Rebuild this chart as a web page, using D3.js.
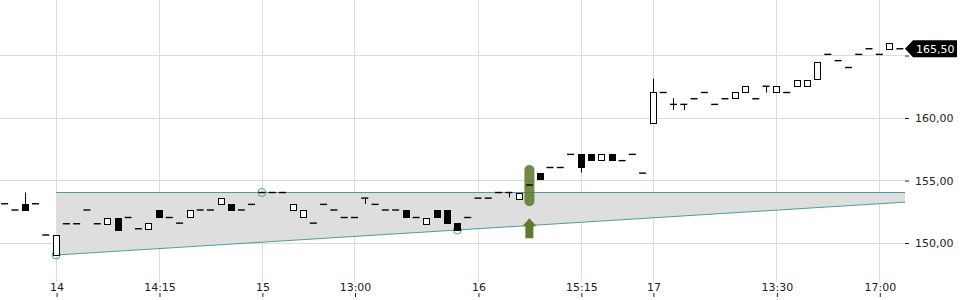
<!DOCTYPE html>
<html>
<head>
<meta charset="utf-8">
<script src="https://cdn.jsdelivr.net/npm/d3@7"></script>
<style>
  body { margin: 0; background: #fff; }
  svg { display: block; font-family: "DejaVu Sans", sans-serif; }
</style>
</head>
<body>
<div id="canvas"></div>
<script>
// candle index of the first entry (the chart shows a few bars of the previous day)
const firstIndex = -5;

const opens = [
  153.1, 152.6, 153.1, 153.1, 150.6, 149.0, 151.5, 151.5, 152.6, 151.5,
  151.5, 152.0, 152.0, 151.1, 151.05, 152.6, 152.0, 151.55, 152.0, 152.6,
  152.6, 153.05, 153.05, 152.6, 153.05, 154.0, 154.0, 154.0, 152.6, 152.0,
  151.55, 153.05, 152.6, 152.0, 152.0, 153.55, 153.05, 152.6, 152.6, 152.6,
  152.0, 151.55, 152.6, 152.6, 151.55, 152.0, 153.55, 153.55, 154.0, 154.0,
  153.55, 154.6, 155.55, 156.0, 156.0, 157.05, 157.05, 157.1, 156.6, 157.1,
  156.55, 157.05, 155.55, 159.55, 162.0, 161.05, 161.05, 161.5, 162.0, 161.05,
  161.5, 161.5, 162.0, 161.5, 162.5, 162.0, 162.0, 162.5, 162.5, 163.05,
  165.05, 164.55, 164.0, 165.05, 165.5, 165.05, 165.5, 165.5
];
const highs = [
  153.1, 152.6, 154.0, 153.1, 150.6, 150.6, 151.5, 151.5, 152.6, 151.5,
  152.0, 152.0, 152.0, 151.1, 151.55, 152.6, 152.0, 151.55, 152.6, 152.6,
  152.6, 153.55, 153.05, 152.6, 153.05, 154.0, 154.0, 154.0, 153.05, 152.6,
  151.55, 153.05, 152.6, 152.0, 152.0, 153.55, 153.05, 152.6, 152.6, 152.6,
  152.0, 152.0, 152.6, 152.6, 151.55, 152.0, 153.55, 153.55, 154.0, 154.0,
  154.0, 154.6, 155.55, 156.0, 156.0, 157.05, 157.05, 157.1, 157.1, 157.1,
  156.55, 157.05, 155.55, 163.1, 162.0, 161.55, 161.05, 161.5, 162.0, 161.05,
  161.5, 162.0, 162.5, 161.5, 162.5, 162.5, 162.0, 163.0, 163.0, 164.45,
  165.05, 164.55, 164.0, 165.05, 165.5, 165.05, 166.0, 165.5
];
const lows = [
  153.1, 152.6, 152.6, 153.1, 150.6, 149.0, 151.5, 151.5, 152.6, 151.5,
  151.5, 151.0, 152.0, 151.1, 151.05, 152.0, 152.0, 151.55, 152.0, 152.6,
  152.6, 153.05, 152.6, 152.6, 153.05, 154.0, 154.0, 154.0, 152.6, 152.0,
  151.55, 153.05, 152.6, 152.0, 152.0, 153.1, 153.05, 152.6, 152.6, 152.0,
  152.0, 151.55, 152.0, 151.55, 151.0, 152.0, 153.55, 153.55, 154.0, 153.6,
  153.55, 154.6, 155.05, 156.0, 156.0, 157.05, 155.6, 156.6, 156.6, 156.6,
  156.55, 157.05, 155.55, 159.55, 162.0, 160.6, 160.6, 161.5, 162.0, 161.05,
  161.5, 161.5, 162.0, 161.5, 162.0, 162.0, 162.0, 162.5, 162.5, 163.05,
  165.05, 164.55, 164.0, 165.05, 165.5, 165.05, 165.5, 165.5
];
const closes = [
  153.1, 152.6, 152.6, 153.1, 150.6, 150.6, 151.5, 151.5, 152.6, 151.5,
  152.0, 151.0, 152.0, 151.1, 151.55, 152.0, 152.0, 151.55, 152.6, 152.6,
  152.6, 153.55, 152.6, 152.6, 153.05, 154.0, 154.0, 154.0, 153.05, 152.6,
  151.55, 153.05, 152.6, 152.0, 152.0, 153.55, 153.05, 152.6, 152.6, 152.0,
  152.0, 152.0, 152.0, 151.55, 151.0, 152.0, 153.55, 153.55, 154.0, 154.0,
  154.0, 154.6, 155.05, 156.0, 156.0, 157.05, 156.0, 156.6, 157.1, 156.6,
  156.55, 157.05, 155.55, 162.0, 162.0, 161.05, 161.05, 161.5, 162.0, 161.05,
  161.5, 162.0, 162.5, 161.5, 162.5, 162.5, 162.0, 163.0, 163.0, 164.45,
  165.05, 164.55, 164.0, 165.05, 165.5, 165.05, 166.0, 165.5
];

// x axis: candle index of each labelled tick
const tickIndexes = [0, 10, 20, 29, 41, 51, 58, 70, 80];
const tickLabels = ["14", "14:15", "15", "13:00", "16", "15:15", "17", "13:30", "17:00"];
const priceTicks = [150, 155, 160, 165];
const priceLabelTicks = [150, 155, 160];

// trend channel (index, value)
const channelUpper = [[0, 154.0], [82.5, 154.0]];
const channelLower = [[0, 149.0], [82.5, 153.23]];
const channelAnchors = [[0, 149.0], [20, 154.0], [39, 151.0]];

// buy signal
const signalIndex = 46;
const signalPill = [152.9, 156.2];
const signalArrow = [150.35, 151.95];

const lastPrice = 165.5;

const width = 960, height = 300;
const plotRight = 905, plotBottom = 282;

const candles = opens.map((o, k) => ({
  i: firstIndex + k, o, h: highs[k], l: lows[k], c: closes[k]
}));

const x = d3.scaleLinear().domain([-5.45, 82.5]).range([0, plotRight]);
const y = d3.scaleLinear().domain([150, 165]).range([242.5, 55]);

const deFormat = d3.formatLocale({ decimal: ",", thousands: ".", grouping: [3], currency: ["", ""] }).format(".2f");

const svg = d3.select("#canvas").append("svg")
  .attr("width", width)
  .attr("height", height);

// grid
svg.append("g").selectAll("line")
  .data(priceTicks).enter().append("line")
  .attr("x1", 0).attr("x2", plotRight)
  .attr("y1", d => Math.round(y(d)) + 0.5).attr("y2", d => Math.round(y(d)) + 0.5)
  .style("stroke", "#dcdcdc");

svg.append("g").selectAll("line")
  .data(tickIndexes).enter().append("line")
  .attr("x1", d => Math.round(x(d)) + 0.5).attr("x2", d => Math.round(x(d)) + 0.5)
  .attr("y1", 0).attr("y2", plotBottom)
  .style("stroke", "#dcdcdc");

// channel band
const bandData = [
  { i: channelUpper[0][0], top: channelUpper[0][1], bot: channelLower[0][1] },
  { i: channelUpper[1][0], top: channelUpper[1][1], bot: channelLower[1][1] }
];
svg.append("path")
  .datum(bandData)
  .attr("d", d3.area().x(d => x(d.i)).y0(d => y(d.bot)).y1(d => y(d.top)))
  .style("fill", "#dedede");

const lineGen = d3.line().x(d => x(d[0])).y(d => y(d[1]));
[channelUpper, channelLower].forEach(pts => {
  svg.append("path")
    .datum(pts)
    .attr("d", lineGen)
    .style("fill", "none")
    .style("stroke", "#4f9c9c")
    .style("stroke-width", 1);
});

svg.append("g").selectAll("circle")
  .data(channelAnchors).enter().append("circle")
  .attr("cx", d => x(d[0])).attr("cy", d => y(d[1]))
  .attr("r", 4)
  .style("fill", "none")
  .style("stroke", "#4f9c9c");

// signal marker
const sx = x(signalIndex);
svg.append("rect")
  .attr("x", sx - 5).attr("width", 10)
  .attr("y", y(signalPill[1])).attr("height", y(signalPill[0]) - y(signalPill[1]))
  .attr("rx", 5)
  .style("fill", "#5d7a2c")
  .style("opacity", 0.88);

const aTop = y(signalArrow[1]), aBot = y(signalArrow[0]);
svg.append("path")
  .attr("d", `M${sx},${aTop} L${sx + 7},${aTop + 8} L${sx + 4},${aTop + 8} L${sx + 4},${aBot} L${sx - 4},${aBot} L${sx - 4},${aTop + 8} L${sx - 7},${aTop + 8} Z`)
  .style("fill", "#5d7a2c");

// candles
const half = 3.2;
const cg = svg.append("g");
candles.forEach(d => {
  const cx = x(d.i);
  const px = Math.round(cx) + 0.5;
  if (d.h > Math.max(d.o, d.c) || d.l < Math.min(d.o, d.c)) {
    cg.append("line")
      .attr("x1", px).attr("x2", px)
      .attr("y1", y(d.h)).attr("y2", y(d.l))
      .style("stroke", "#000");
  }
  if (d.o === d.c) {
    cg.append("line")
      .attr("x1", cx - half - 0.3).attr("x2", cx + half + 0.3)
      .attr("y1", y(d.o)).attr("y2", y(d.o))
      .style("stroke", "#000")
      .style("stroke-width", 1.4);
  } else {
    const top = y(Math.max(d.o, d.c)), bot = y(Math.min(d.o, d.c));
    cg.append("rect")
      .attr("x", Math.round(cx - half) + 0.5)
      .attr("width", Math.round(half * 2))
      .attr("y", Math.round(top) + 0.5)
      .attr("height", Math.max(1, Math.round(bot - top)))
      .style("fill", d.c > d.o ? "#fff" : "#000")
      .style("stroke", "#000");
  }
});

// x axis (ticks at the bottom edge, labels above them)
const xAxis = d3.axisTop(x)
  .tickValues(tickIndexes)
  .tickFormat((d, k) => tickLabels[k])
  .tickSize(4)
  .tickPadding(2);
const gx = svg.append("g").attr("transform", "translate(0.5,297)").call(xAxis);
gx.select(".domain").remove();
gx.selectAll("line").style("stroke", "#222");
gx.selectAll("text").style("font-size", "11px").style("fill", "#222")
  .style("font-family", "'DejaVu Sans', sans-serif");

// y axis on the right
const yAxis = d3.axisRight(y)
  .tickValues(priceTicks)
  .tickFormat(d => priceLabelTicks.includes(d) ? deFormat(d) : "")
  .tickSize(4)
  .tickPadding(6);
const gy = svg.append("g").attr("transform", `translate(${plotRight},0.5)`).call(yAxis);
gy.select(".domain").remove();
gy.selectAll("line").style("stroke", "#222");
gy.selectAll("text").style("font-size", "11px").style("fill", "#222")
  .style("font-family", "'DejaVu Sans', sans-serif");

// last price tag
const ly = y(lastPrice);
svg.append("path")
  .attr("d", `M${plotRight},${ly} L${plotRight + 8},${ly - 8.5} L${width - 3},${ly - 8.5} L${width - 3},${ly + 8.5} L${plotRight + 8},${ly + 8.5} Z`)
  .style("fill", "#000");
svg.append("text")
  .attr("x", plotRight + 11)
  .attr("y", ly + 4)
  .style("font-size", "11px")
  .style("fill", "#fff")
  .text(deFormat(lastPrice));
</script>
</body>
</html>
